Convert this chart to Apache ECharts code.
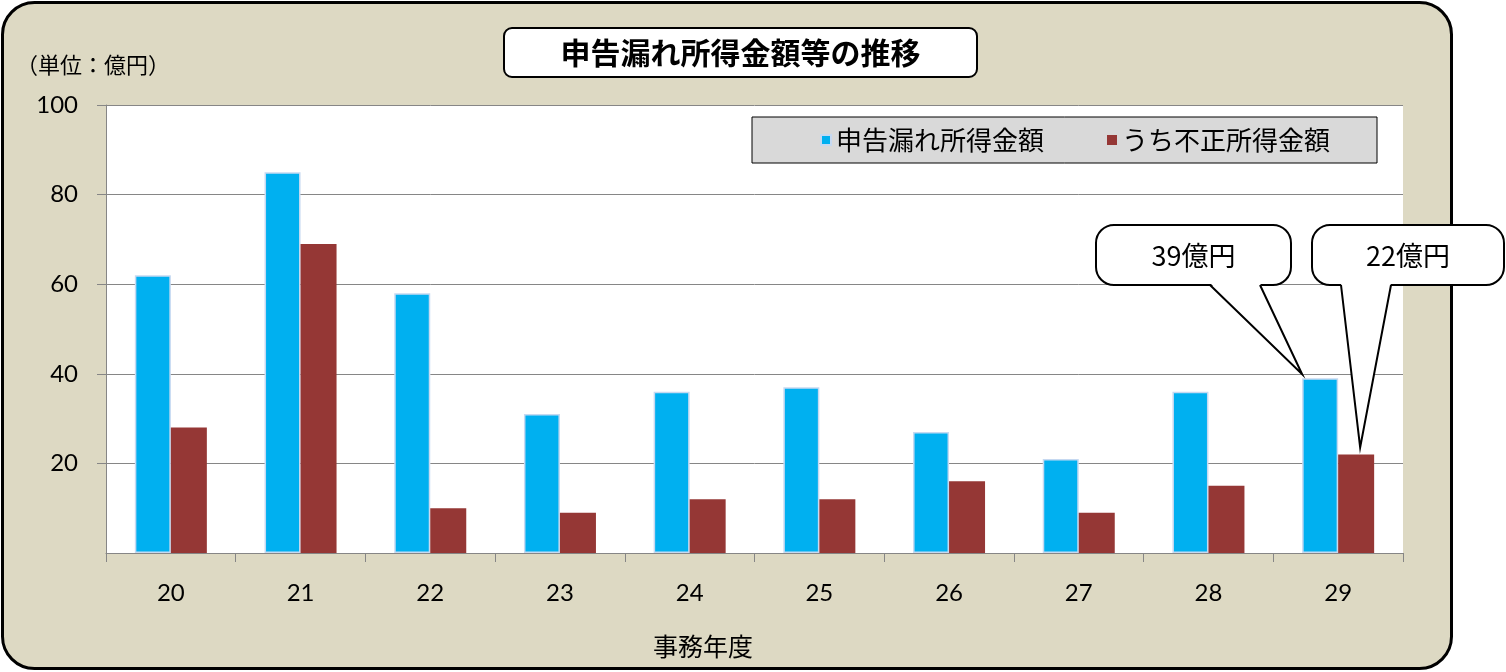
<!DOCTYPE html>
<html><head><meta charset="utf-8">
<script src="https://cdn.jsdelivr.net/npm/echarts@6/dist/echarts.min.js"></script>
<style>html,body{margin:0;padding:0;background:#fff}#c{width:1506px;height:672px}</style>
</head><body><div id="c"></div>
<script>
const categories = ['20','21','22','23','24','25','26','27','28','29'];
const undeclaredIncome = [62, 85, 58, 31, 36, 37, 27, 21, 36, 39];
const fraudulentIncome = [28, 69, 10, 9, 12, 12, 16, 9, 15, 22];
const seriesNames = ['申告漏れ所得金額', 'うち不正所得金額'];
const titleText = '申告漏れ所得金額等の推移';
const unitText = '（単位：億円）';
const xAxisTitle = '事務年度';
const calloutLabels = ['39億円', '22億円'];

const JP = '"Noto Sans CJK JP", sans-serif';
const NUM = 'Lato, "Liberation Sans", sans-serif';
const GRAY = '#868686';

const chart = echarts.init(document.getElementById('c'), null, {renderer: 'canvas'});

const option = {
  animation: false,
  backgroundColor: '#fff',
  grid: {left: 106, right: 103, top: 105, bottom: 119, show: true, backgroundColor: '#fff', borderWidth: 0},
  legend: {
    left: 752, top: 117, orient: 'horizontal',
    itemWidth: 10, itemHeight: 10, itemGap: 63,
    icon: 'rect',
    backgroundColor: '#d9d9d9', borderColor: '#000', borderWidth: 1, borderRadius: 0,
    padding: [10, 47, 10, 68],
    textStyle: {fontFamily: JP, fontSize: 26, color: '#000'},
    data: seriesNames
  },
  xAxis: {
    type: 'category', data: categories,
    axisLine: {show: true, lineStyle: {color: GRAY, width: 1}},
    axisTick: {show: true, alignWithLabel: false, length: 9, lineStyle: {color: GRAY}},
    axisLabel: {fontFamily: NUM, fontSize: 24, color: '#000', margin: 28},
    splitLine: {show: false}
  },
  yAxis: {
    type: 'value', min: 0, max: 100, interval: 20,
    axisLine: {show: true, lineStyle: {color: GRAY, width: 1}},
    axisTick: {show: true, length: 9, lineStyle: {color: GRAY}},
    axisLabel: {fontFamily: NUM, fontSize: 24, color: '#000', margin: 28, showMinLabel: false},
    splitLine: {show: true, lineStyle: {color: GRAY, width: 1}}
  },
  series: [
    {name: seriesNames[0], type: 'bar', data: undeclaredIncome, barWidth: 36, barGap: '0%',
     itemStyle: {color: '#00b0f0', borderColor: '#c6d9f1', borderWidth: 1.5}},
    {name: seriesNames[1], type: 'bar', data: fraudulentIncome, barWidth: 36, barGap: '0%',
     itemStyle: {color: '#953735'}}
  ]
};
chart.setOption(option);

function txt(text, x, y, size, family, align, weight) {
  return {type: 'text', z: 50, style: {text: text, x: x, y: y, fontSize: size, fontFamily: family,
    fontWeight: weight || 'normal', fill: '#000', textAlign: align || 'center', align: align || 'center',
    textVerticalAlign: 'middle', verticalAlign: 'middle'}};
}

function callout(box, base, tip, label) {
  const bottom = box.y + box.h;
  return [
    {type: 'rect', z: 100, shape: {x: box.x, y: box.y, width: box.w, height: box.h, r: 18},
     style: {fill: '#fff', stroke: '#000', lineWidth: 2}},
    {type: 'polygon', z: 101, shape: {points: [[base[0], bottom - 2], [base[1], bottom - 2], tip]},
     style: {fill: '#fff', stroke: null}},
    {type: 'polyline', z: 102, shape: {points: [[base[0], bottom], tip, [base[1], bottom]]},
     style: {fill: null, stroke: '#000', lineWidth: 2}},
    Object.assign(txt(label, box.x + box.w / 2, box.y + box.h / 2 + 1, 27, JP), {z: 103})
  ];
}

// tips derived from the axes
const last = categories.length - 1;
const p1 = chart.convertToPixel({gridIndex: 0}, [categories[last], undeclaredIncome[last]]);
const p2 = chart.convertToPixel({gridIndex: 0}, [categories[last], fraudulentIncome[last]]);
const tip1 = [p1[0] - 36, p1[1] - 4];
const tip2 = [p2[0] + 22, p2[1] - 7];

const graphics = [
  {type: 'rect', z: -10, silent: true, shape: {x: 2.5, y: 2.5, width: 1449, height: 666, r: 32},
   style: {fill: '#ddd9c3', stroke: '#000', lineWidth: 3}},
  {type: 'rect', z: 40, shape: {x: 504, y: 28, width: 473, height: 49, r: 8},
   style: {fill: '#fff', stroke: '#000', lineWidth: 2}},
  txt(titleText, 740.5, 53, 30, JP, 'center', 'bold'),
  txt(unitText, 16, 65, 22, JP, 'left'),
  txt(xAxisTitle, 703, 646, 25, JP, 'center')
].concat(
  callout({x: 1096, y: 225, w: 195, h: 60}, [1210, 1260], tip1, calloutLabels[0]),
  callout({x: 1312, y: 225, w: 192, h: 60}, [1341, 1391], tip2, calloutLabels[1])
);
chart.setOption({graphic: graphics});
</script>
</body></html>
